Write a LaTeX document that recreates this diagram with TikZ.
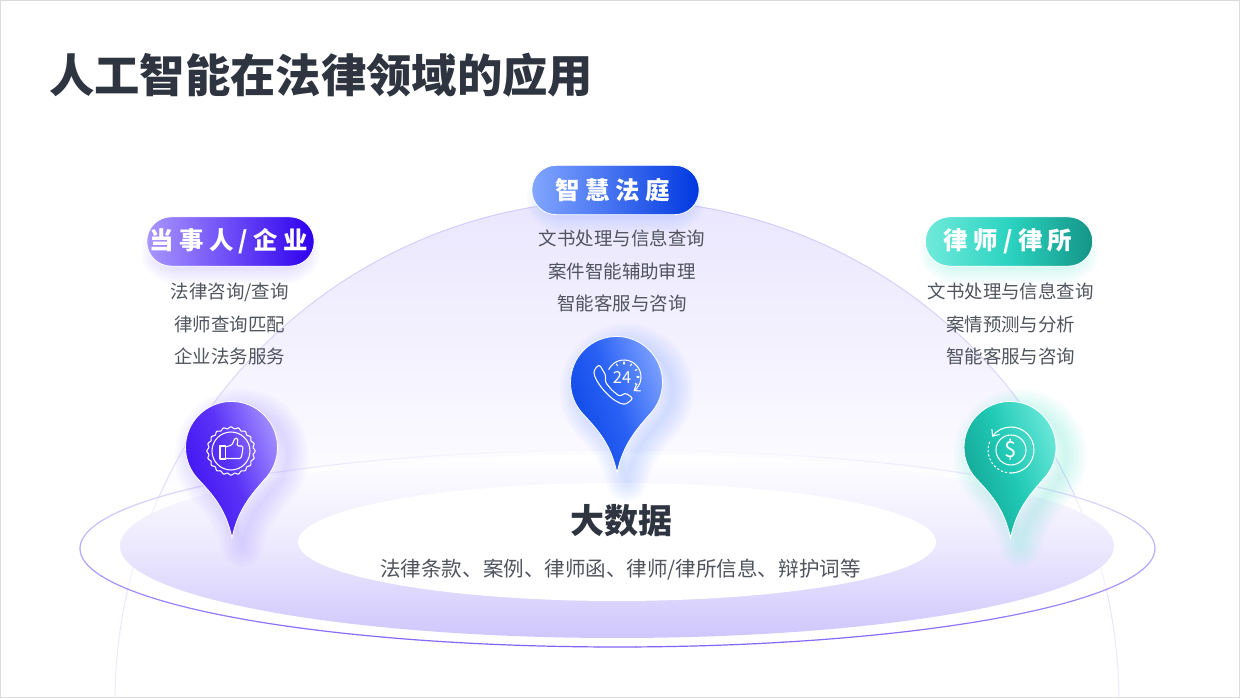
\documentclass[tikz,border=0pt]{standalone}
\usepackage{fontspec}
\usepackage{tikz}
\usetikzlibrary{positioning, arrows.meta}
\newfontfamily\cjkfont{Noto Sans CJK SC}
\newfontfamily\pillfont[LetterSpace=22]{Noto Sans CJK SC}
\definecolor{titlegray}{HTML}{2F3540}
\definecolor{bodygray}{HTML}{50545E}
\definecolor{domeedge}{HTML}{B9ABFA}
\definecolor{domefill}{HTML}{EAE6FE}
\definecolor{ringedge}{HTML}{7A5AF8}
\definecolor{platelow}{HTML}{CFC6FC}
\definecolor{platemid}{HTML}{EDE9FE}
\definecolor{violetA}{HTML}{A996FF}
\definecolor{violetB}{HTML}{2E00EE}
\definecolor{blueA}{HTML}{82A6FF}
\definecolor{blueB}{HTML}{0038E0}
\definecolor{tealA}{HTML}{70EADB}
\definecolor{tealB}{HTML}{149587}
\definecolor{tealC}{HTML}{2BD3C0}
\definecolor{violetL}{HTML}{A592FF}
\definecolor{violetM}{HTML}{5A33F8}
\definecolor{violetD}{HTML}{3A0FF0}
\definecolor{blueL}{HTML}{7FA3FF}
\definecolor{blueM}{HTML}{2A62F5}
\definecolor{blueD}{HTML}{0A44E4}
\definecolor{tealL}{HTML}{6CE8DA}
\definecolor{tealM}{HTML}{20C9B5}
\definecolor{tealD}{HTML}{12A08F}
% Outline of a map pin around the origin
\newcommand{\pinoutline}{(0,91) .. controls (-6,62) and (-20,47) .. (-33,33) arc[start angle=135, end angle=405, radius=46] .. controls (20,47) and (6,62) .. (0,91) -- cycle}
\begin{document}
\begin{tikzpicture}[
        x=.75pt, y=-.75pt,
        % Styles
        pill/.style={% For the three headings
            rectangle,
            rounded corners=18.3pt,
            draw=white,
            line width=.6pt,
            minimum width=125.5pt,
            minimum height=37pt,
            inner sep=0pt,
            text=white,
            font=\pillfont\bfseries\fontsize{18.3}{20}\selectfont,
            },
        bodytext/.style={% For the lists under the headings
            align=center,
            inner sep=0pt,
            text=bodygray,
            font=\cjkfont\fontsize{13.85}{24.4}\selectfont,
            },
        pinfill/.style={% For the pin body
            draw=white,
            line width=.6pt,
            },
        iconline/.style={% For the icons inside the pins
            draw=white,
            line width=.8pt,
            line cap=round,
            line join=round,
            },
        ]
    \useasboundingbox (0,0) rectangle (1240,698);
    \fill[white] (0,0) rectangle (1240,698);

    % Draw the dome
        \begin{scope}
            \clip (0,0) rectangle (1240,698);
            \begin{scope}
                \clip (617,702) circle[radius=502];
                \shade[top color=domefill, bottom color=white] (100,200) rectangle (1130,520);
            \end{scope}
            \foreach \a in {180,184,...,356}{
                \pgfmathtruncatemacro{\m}{max(4,25-40*sin(\a))}
                \draw[domeedge!\m!white, line width=.7pt, line cap=round] ([shift={(\a:502)}]617,702) arc[start angle=\a, delta angle=4, radius=502];
            }
        \end{scope}

    % Draw the plate and its ring
        \fill[white, opacity=.45] (617.5,548.5) ellipse[x radius=537.5, y radius=98.5];
        \shade[top color=white, bottom color=platelow, middle color=platemid] (617,546) ellipse[x radius=497, y radius=92];
        \fill[white] (617,542) ellipse[x radius=319, y radius=59];
        \foreach \a in {0,4,...,356}{
            \pgfmathtruncatemacro{\m}{50+45*sin(\a)}
            \draw[ringedge!\m!white, line width=.9pt, line cap=round] ([shift={(\a:537.5 and 98.5)}]617.5,548.5) arc[start angle=\a, delta angle=4, x radius=537.5, y radius=98.5];
        }

    % Draw the glow under pins and headings
        \foreach \px/\py/\gc/\hx/\hy in {232/447/violetA/230.5/241.5, 617/382/blueA/615.5/190, 1010.5/447/tealA/1009/241.5}{
            \foreach \w in {3,7,...,31}{
                \draw[\gc, opacity=.045, line width=\w, line join=round, shift={(\px+10,\py+8)}] \pinoutline;
                \draw[\gc, opacity=.045, line width=\w, line join=round, rounded corners=11pt] (\hx-68,\hy) rectangle (\hx+68,\hy+22);
            }
        }

    % Draw the title
        \node[inner sep=0pt, anchor=west, text=titlegray, font=\cjkfont\bfseries\fontsize{34}{36}\selectfont] (title) at (49,75) {人工智能在法律领域的应用};

    % Draw the headings
        \node[pill, left color=violetA, right color=violetB] (partyhead) at (230.5,241.5) {当事人/企业\kern2.5pt};
        \node[pill, left color=blueA, right color=blueB] (courthead) at (615.5,190) {智慧法庭\kern4.25pt};
        \node[pill, left color=tealA, right color=tealB, middle color=tealC] (lawyerhead) at (1009,241.5) {律师/律所\kern1.25pt};

    % Draw the lists
        \node[bodytext] (partylist) at (229.7,324.2) {法律咨询/查询\\律师查询匹配\\企业法务服务};
        \node[bodytext] (courtlist) at (622,271.2) {文书处理与信息查询\\案件智能辅助审理\\智能客服与咨询};
        \node[bodytext] (lawyerlist) at (1010.7,324.2) {文书处理与信息查询\\案情预测与分析\\智能客服与咨询};

    % Draw the pins
        \shade[pinfill, left color=violetD, right color=violetL, middle color=violetM, shading angle=110, shift={(232,447)}] \pinoutline;
        \shade[pinfill, left color=blueD, right color=blueL, middle color=blueM, shading angle=110, shift={(617,382)}] \pinoutline;
        \shade[pinfill, left color=tealD, right color=tealL, middle color=tealM, shading angle=110, shift={(1010.5,447)}] \pinoutline;

    % Draw the thumb icon
        \begin{scope}[shift={(231,451)}]
            \draw[iconline] plot[domain=0:360, samples=161] ({(23.3+.9*cos(20*\x))*cos(\x)},{(23.3+.9*cos(20*\x))*sin(\x)});
            \draw[iconline] (0,0) circle[radius=19];
            \draw[iconline] (-11,-5) rectangle (-5.5,8);
            \draw[iconline, rounded corners=1pt] (-5.5,-4) -- (1,-6) -- (4,-13) -- (7,-12.5) -- (6,-5) -- (12,-5) -- (11.5,1) -- (10,7.5) -- (-5.5,7.5);
        \end{scope}

    % Draw the phone icon
        \draw[iconline, rounded corners=2pt] (599.3,364.3) -- (594,370) .. controls (594,380) and (608,398) .. (622,404) -- (626,404.3) -- (633.3,398.3) -- (625,392.7) -- (620,396.7) -- (611.7,390) -- (605,381.7) -- (606,375.7) -- cycle;
        \draw[iconline, -{Straight Barb[length=4pt, width=6pt]}] ([shift={(206:17)}]624,377) arc[start angle=206, end angle=416, radius=17];
        \foreach \a in {240,270,300,330,0,30}{
            \draw[iconline] ([shift={(\a:13)}]624,377) -- ([shift={(\a:15)}]624,377);
        }
        \node[inner sep=0pt, text=white, font=\cjkfont\fontsize{12.4}{13}\selectfont] (clocktext) at (622,377.5) {24};

    % Draw the dollar icon
        \draw[iconline] (1011,450) circle[radius=15];
        \draw[iconline, -{Straight Barb[length=4pt, width=7pt]}] ([shift={(90:23)}]1011,450) arc[start angle=90, end angle=-145, radius=23];
        \draw[iconline, dash pattern=on 1.2pt off 2pt] ([shift={(90:23)}]1011,450) arc[start angle=90, end angle=205, radius=23];
        \node[inner sep=0pt, text=white, font=\cjkfont\fontsize{16.5}{18}\selectfont] (dollar) at (1011,450) {\$};

    % Draw the centre texts
        \node[inner sep=0pt, text=titlegray, font=\cjkfont\bfseries\fontsize{25.5}{28}\selectfont] (bigdata) at (621,520.5) {大数据};
        \node[inner sep=0pt, text=bodygray, font=\cjkfont\fontsize{15.4}{18}\selectfont] (sources) at (620.5,569.2) {法律条款、案例、律师函、律师/律所信息、辩护词等};

    % Draw the frame
        \draw[black!14, line width=.7pt] (.5,.5) rectangle (1239.5,697.5);
\end{tikzpicture}
\end{document}
